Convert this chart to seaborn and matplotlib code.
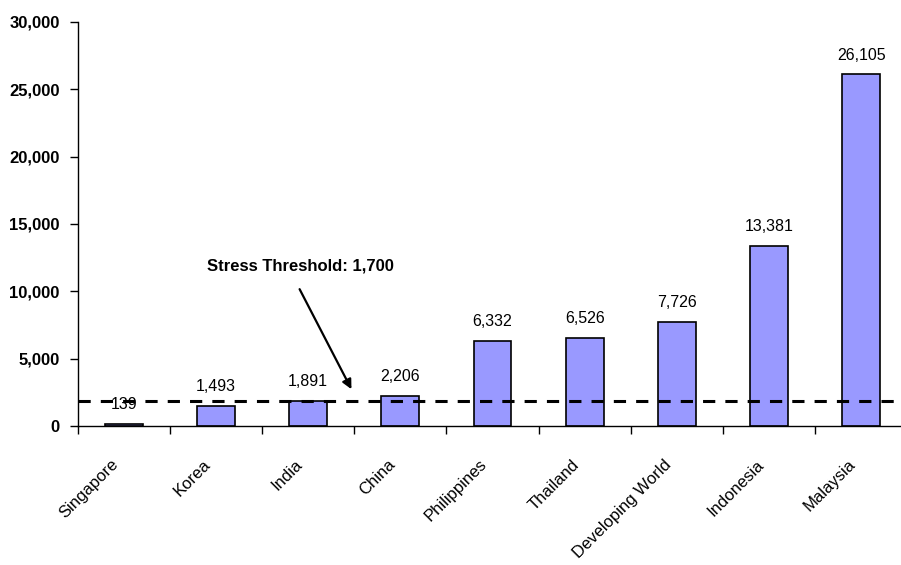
import matplotlib
matplotlib.use("Agg")
import matplotlib.pyplot as plt
import matplotlib.transforms as mtransforms
import seaborn as sns
import numpy as np
import pandas as pd

categories = ["Singapore", "Korea", "India", "China", "Philippines",
              "Thailand", "Developing World", "Indonesia", "Malaysia"]
values = [139, 1493, 1891, 2206, 6332, 6526, 7726, 13381, 26105]
threshold_label = "Stress Threshold: 1,700"
threshold_line = 1850
y_ticks = [0, 5000, 10000, 15000, 20000, 25000, 30000]

sns.set_theme(style="white")
plt.rcParams['font.family'] = ['Liberation Sans', 'DejaVu Sans']
plt.rcParams['text.color'] = 'black'
plt.rcParams['xtick.color'] = 'black'
plt.rcParams['ytick.color'] = 'black'
plt.rcParams['xtick.labelcolor'] = 'black'
plt.rcParams['ytick.labelcolor'] = 'black'

df = pd.DataFrame({"country": categories, "value": values})

fig = plt.figure(figsize=(9.01, 5.65), dpi=100)
ax = fig.add_axes([77.6 / 901, 139 / 565, (9 * 92.2) / 901, (426 - 22) / 565])

sns.barplot(data=df, x="country", y="value", color="#9999FF", edgecolor="black",
            linewidth=1.2, width=0.41, saturation=1, ax=ax)

ax.set_xlim(-0.5, len(categories) - 0.5)
ax.set_ylim(0, 30000)
ax.set_yticks(y_ticks)
ax.set_yticklabels([f"{v:,}" for v in y_ticks], fontsize=12, fontweight="bold", color="black")
ax.set_xlabel("")
ax.set_ylabel("")

for s in ["top", "right"]:
    ax.spines[s].set_visible(False)
for s in ["left", "bottom"]:
    ax.spines[s].set_color("black")
    ax.spines[s].set_linewidth(1.0)

ax.tick_params(axis="y", which="major", direction="out", length=6, width=1, color="black", left=True, pad=7)
ax.tick_params(axis="x", which="major", length=0, pad=26)
ax.set_xticks(np.arange(len(categories)))
ax.set_xticklabels(categories, rotation=45, ha="right", va="center", rotation_mode="anchor",
                   fontsize=12, color="black")
shift = mtransforms.ScaledTranslation(-8 / 100, 0, fig.dpi_scale_trans)
for lab in ax.get_xticklabels():
    lab.set_transform(lab.get_transform() + shift)
ax.set_xticks(np.arange(len(categories)) - 0.5, minor=True)
ax.tick_params(axis="x", which="minor", direction="out", length=6, width=1, color="black", bottom=True)

for i, v in enumerate(values):
    ax.annotate(f"{v:,}", xy=(i, v), xytext=(0, 8.5), textcoords="offset points",
                ha="center", va="bottom", fontsize=11.5, color="black")

ax.axhline(threshold_line, xmin=0, xmax=(8.46 + 0.5) / 9, color="black", linestyle=(0, (4, 3.3)), linewidth=2.2)

ax.annotate("", xy=(2.484, 2547), xytext=(1.894, 10344),
            arrowprops=dict(arrowstyle="-|>", color="black", lw=1.6, mutation_scale=14))
ax.text(1.92, 11881, threshold_label, ha="center", va="center", fontsize=12,
        fontweight="bold", color="black")

fig.savefig("out.png", dpi=100)
